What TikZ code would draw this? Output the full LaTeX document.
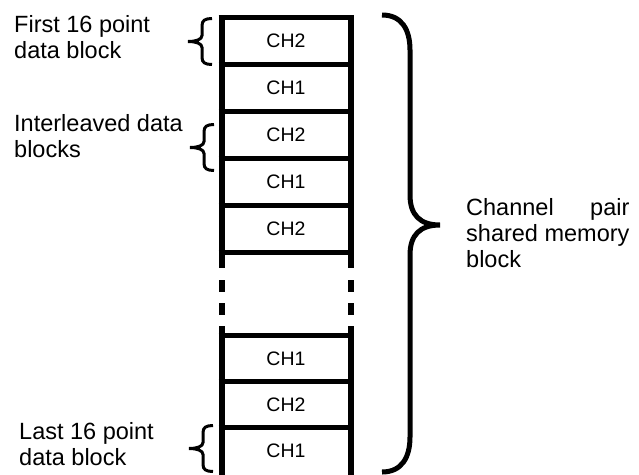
\documentclass[tikz,border=0pt]{standalone}
\usepackage{fontspec}
\setmainfont{Liberation Sans}
\usepackage{calc}
\begin{document}
\begin{tikzpicture}[x=1pt,y=-1pt,
  vline/.style={line width=6pt},
  hline/.style={line width=5pt},
  bigbrace/.style={line width=5pt},
  smallbrace/.style={line width=3pt},
  chlabel/.style={font=\fontsize{19.5}{22}\selectfont, inner sep=0pt},
  sidelabel/.style={font=\fontsize{23.5}{26}\selectfont, align=left, inner sep=0pt, anchor=base west},
  lbrace/.pic={\draw[smallbrace] (24,-23) .. controls (17,-23) and (14,-21) .. (14,-16) -- (14,-6)
      .. controls (14,-2) and (8,0) .. (0,0) .. controls (8,0) and (14,2) .. (14,6) -- (14,16)
      .. controls (14,21) and (17,23) .. (24,23);}]
\useasboundingbox (0,0) rectangle (639,474);
\clip (0,0) rectangle (639,474);
% frame, upper part
\draw[vline] (221.5,15) -- (221.5,268);
\draw[vline] (351,15) -- (351,268);
\foreach \yy in {17.5,64.5,111.5,158.5,205.5,252.5}
  \draw[hline] (218.5,\yy) -- (354,\yy);
% dashes
\foreach \xx in {221.5,351}{
  \draw[vline] (\xx,280) -- (\xx,292);
  \draw[vline] (\xx,303) -- (\xx,315);}
% frame, lower part
\draw[vline] (221.5,326) -- (221.5,480);
\draw[vline] (351,326) -- (351,480);
\foreach \yy in {335.5,381.5,427.5}
  \draw[hline] (218.5,\yy) -- (354,\yy);
% channel labels
\node[chlabel] (r1) at (286,41) {CH2};
\node[chlabel] (r2) at (286,88) {CH1};
\node[chlabel] (r3) at (286,135) {CH2};
\node[chlabel] (r4) at (286,182) {CH1};
\node[chlabel] (r5) at (286,229) {CH2};
\node[chlabel] (r6) at (286,358.5) {CH1};
\node[chlabel] (r7) at (286,404.5) {CH2};
\node[chlabel] (r8) at (286,450.5) {CH1};
% small braces
\pic at (188,41.5) {lbrace};
\pic at (190,147.5) {lbrace};
\pic at (189,448.5) {lbrace};
% big brace
\draw[bigbrace] (382,15) .. controls (402,15) and (410,30) .. (410,50) -- (410,195)
  .. controls (410,215) and (420,225) .. (440,225)
  .. controls (420,225) and (410,235) .. (410,255) -- (410,437)
  .. controls (410,457) and (402,472) .. (382,472);
% side labels
\node[sidelabel] (first) at (14,58) {First 16 point\\data block};
\node[sidelabel] (inter) at (14,157) {Interleaved data\\blocks};
\node[sidelabel] (last) at (19,465) {Last 16 point\\data block};
\node[sidelabel] (pair) at (466,267) {\makebox[\widthof{shared memory}][s]{Channel pair}\\shared memory\\block};
\end{tikzpicture}
\end{document}
